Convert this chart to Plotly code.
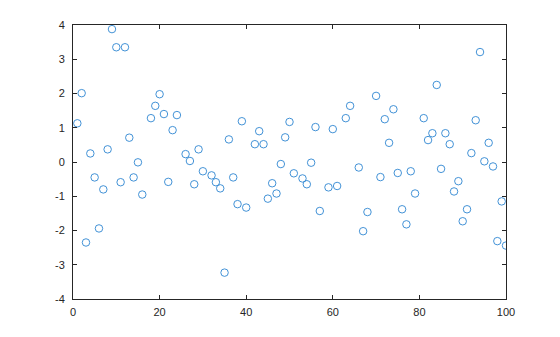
import plotly.graph_objects as go

# Visible points (index, value)
x_vals = [1, 2, 3, 4, 5, 6, 7, 8, 9, 10, 11, 12, 13, 14, 15, 16,
          18, 19, 20, 21, 22, 23, 24, 26, 27, 28, 29, 30, 32, 33, 34, 35,
          36, 37, 38, 39, 40, 42, 43, 44, 45, 46, 47, 48, 49, 50, 51, 53,
          54, 55, 56, 57, 59, 60, 61, 63, 64, 66, 67, 68, 70, 71, 72, 73,
          74, 75, 76, 77, 78, 79, 81, 82, 83, 84, 85, 86, 87, 88, 89, 90,
          91, 92, 93, 94, 95, 96, 97, 98, 99, 100]
y_vals = [1.13, 2.01, -2.35, 0.25, -0.45, -1.94, -0.80, 0.37, 3.88, 3.35, -0.59, 3.35, 0.71, -0.45, -0.01, -0.95,
          1.28, 1.64, 1.98, 1.40, -0.58, 0.93, 1.37, 0.23, 0.03, -0.65, 0.37, -0.27, -0.39, -0.59, -0.77, -3.23,
          0.66, -0.45, -1.23, 1.19, -1.33, 0.52, 0.90, 0.52, -1.07, -0.62, -0.92, -0.06, 0.72, 1.17, -0.33, -0.48,
          -0.65, -0.02, 1.02, -1.43, -0.74, 0.96, -0.70, 1.28, 1.64, -0.16, -2.02, -1.46, 1.93, -0.44, 1.25, 0.56,
          1.54, -0.32, -1.38, -1.82, -0.27, -0.92, 1.28, 0.64, 0.84, 2.25, -0.20, 0.84, 0.52, -0.86, -0.56, -1.73,
          -1.38, 0.26, 1.22, 3.21, 0.02, 0.56, -0.13, -2.31, -1.15, -2.44]

x_ticks = [0, 20, 40, 60, 80, 100]
y_ticks = [-4, -3, -2, -1, 0, 1, 2, 3, 4]
y_tick_text = ["-4", "-3", "-2", "-1", "0", "1", "2", "3", "4"]

fig = go.Figure()
fig.add_trace(go.Scatter(
    x=x_vals, y=y_vals, mode="markers",
    marker=dict(symbol="circle-open", size=7.5, color="#2E86D1", line=dict(width=0.9, color="#2E86D1")),
    showlegend=False, cliponaxis=True,
))

axis_common = dict(
    showgrid=False, zeroline=False, showline=True, linecolor="#262626", linewidth=1,
    mirror="ticks", ticks="inside", ticklen=4, tickcolor="#262626", tickwidth=1,
    tickfont=dict(family="Liberation Sans, Arial, sans-serif", size=11, color="#262626"),
)

fig.update_layout(
    width=560, height=337,
    margin=dict(l=73, r=54, t=25, b=38),
    paper_bgcolor="white", plot_bgcolor="white",
    xaxis=dict(range=[0, 100], tickvals=x_ticks, ticklabelstandoff=3, **axis_common),
    yaxis=dict(range=[-4, 4], tickvals=y_ticks, ticktext=y_tick_text, ticklabelstandoff=5, **axis_common),
)

fig.write_html("out.html")
